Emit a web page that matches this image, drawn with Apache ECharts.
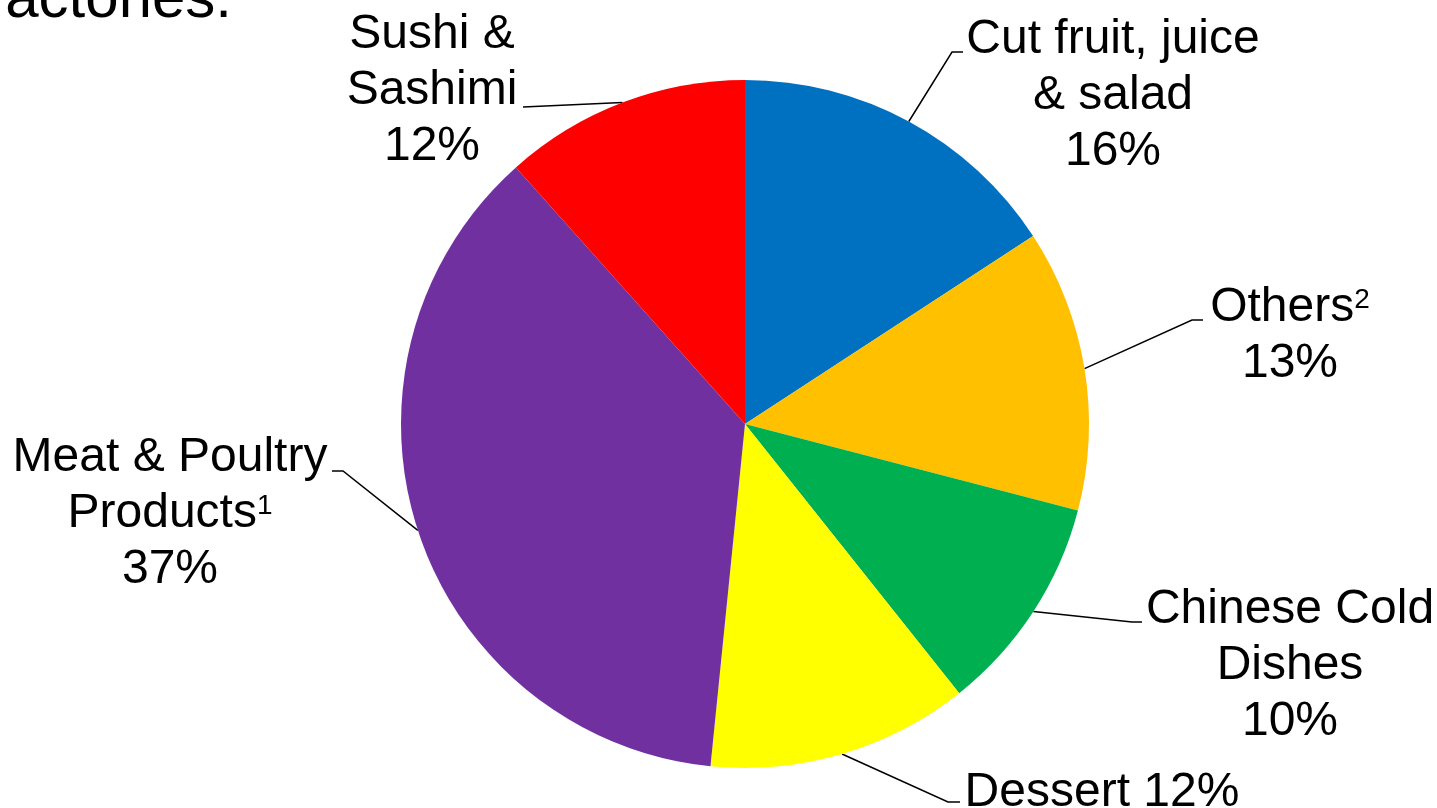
<!DOCTYPE html>
<html>
<head>
<meta charset="utf-8">
<script src="https://cdn.jsdelivr.net/npm/echarts@6/dist/echarts.min.js"></script>
<style>
html,body{margin:0;padding:0;background:#fff;}
#chart{width:1437px;height:808px;}
</style>
</head>
<body>
<div id="chart"></div>
<script>
// Data
const categories = ['Cut fruit, juice & salad', 'Others', 'Chinese Cold Dishes', 'Dessert', 'Meat & Poultry Products', 'Sushi & Sashimi'];
const labelTexts = ['Cut fruit, juice\n& salad', 'Others', 'Chinese Cold\nDishes', 'Dessert', 'Meat & Poultry\nProducts', 'Sushi &\nSashimi'];
const footnotes = ['', '2', '', '', '1', ''];
const percentSeparators = ['\n', '\n', '\n', ' ', '\n', '\n'];
const shares = [15.8, 13.25, 10.25, 12.3, 36.8, 11.6];
const colors = ['#0070C0', '#FFC000', '#00B050', '#FFFF00', '#7030A0', '#FF0000'];
const titleFragment = 'factories.';

// Layout (label block centres and leader-line knees)
const labelPos = [[1113, 96], [1290, 336], [1290, 666], [1102, 793], [170, 514], [432, 91]];
const lineKnee = [[952, 52], [1192, 320], [1132, 622], [948, 802], [343, 471], [523, 107]];
const lineEnd = [[963, 52], [1203, 320], [1142, 622], [960, 802], [332, 471], [523, 107]];

const chart = echarts.init(document.getElementById('chart'), null, {renderer: 'canvas'});
const FONT = '"Liberation Sans", Arial, sans-serif';

chart.setOption({
  animation: false,
  backgroundColor: '#ffffff',
  graphic: [{
    type: 'text',
    x: 232,
    y: 0,
    style: {
      text: titleFragment,
      font: '60px ' + FONT,
      fill: '#000',
      align: 'right',
      verticalAlign: 'middle'
    }
  }],
  series: [{
    type: 'pie',
    center: [745, 424],
    radius: 344,
    startAngle: 90,
    clockwise: true,
    avoidLabelOverlap: false,
    data: categories.map((c, i) => ({
      name: c,
      value: shares[i],
      itemStyle: {color: colors[i]}
    })),
    itemStyle: {borderWidth: 0},
    emphasis: {disabled: true},
    label: {
      show: true,
      position: 'outside',
      fontFamily: FONT,
      fontSize: 48,
      lineHeight: 56,
      color: '#000',
      align: 'center',
      formatter: function (p) {
        const i = p.dataIndex;
        const sup = footnotes[i] ? '{sup|' + footnotes[i] + '}' : '';
        return labelTexts[i] + sup + percentSeparators[i] + Math.round(p.percent) + '%';
      },
      rich: {
        sup: {fontFamily: FONT, fontSize: 28, lineHeight: 52, verticalAlign: 'top', padding: [6, 0, 0, 0], color: '#000'}
      }
    },
    labelLine: {
      show: true,
      length: 20,
      length2: 10,
      lineStyle: {color: '#000', width: 1.5}
    },
    labelLayout: function (params) {
      const i = params.dataIndex;
      const anchor = params.labelLinePoints && params.labelLinePoints[0];
      const res = {
        x: labelPos[i][0],
        y: labelPos[i][1],
        align: 'center',
        verticalAlign: 'middle'
      };
      if (anchor) {
        res.labelLinePoints = [anchor, lineKnee[i], lineEnd[i]];
      }
      return res;
    }
  }]
});
</script>
</body>
</html>
